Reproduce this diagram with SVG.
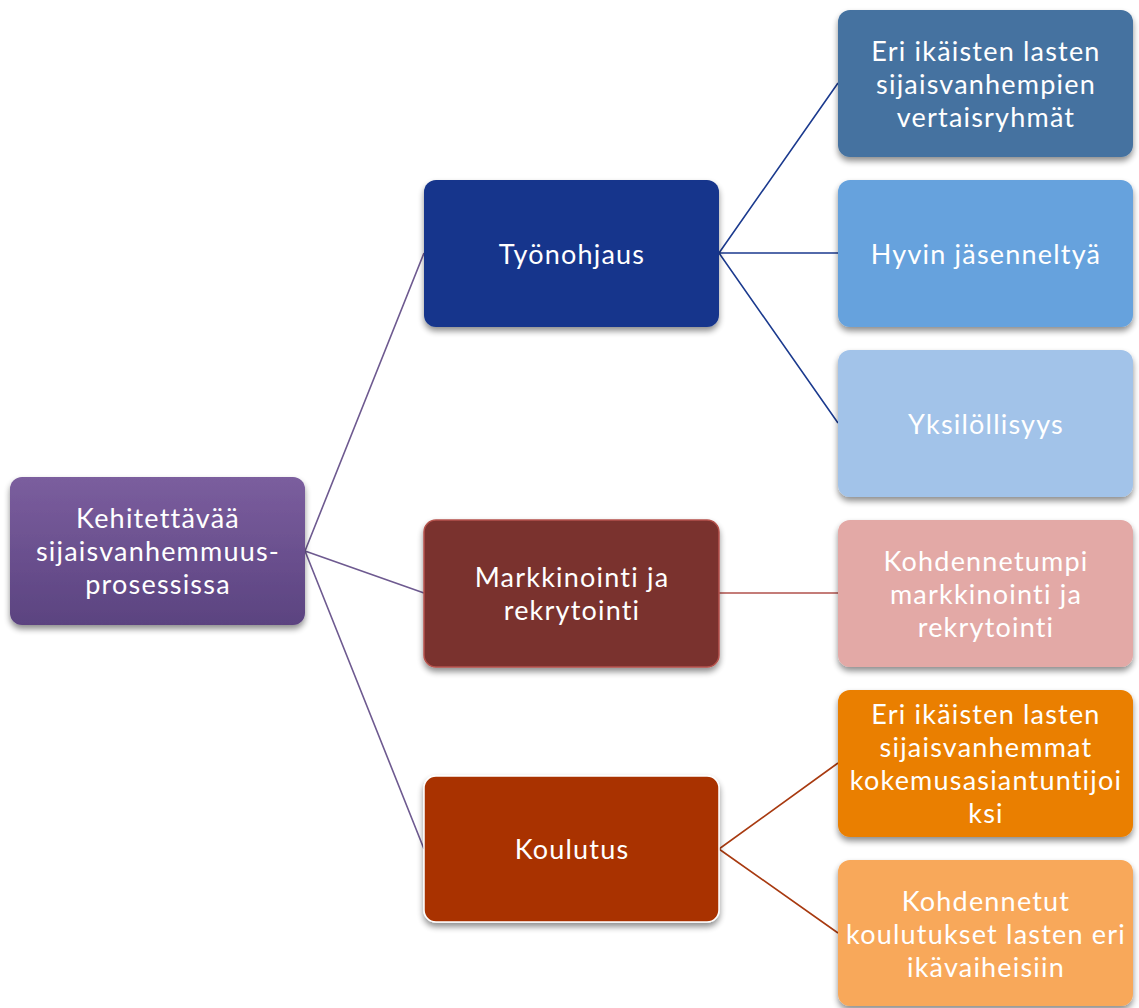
<svg xmlns="http://www.w3.org/2000/svg" width="1139" height="1008" viewBox="0 0 1139 1008">
<style>
text{font-family:Lato,"Open Sans","Liberation Sans",sans-serif;font-size:27px;letter-spacing:1.2px;fill:#ffffff;text-anchor:middle}
.box{filter:url(#sh)}
.c{fill:none;stroke-width:1.6}
</style>
<defs>
<filter id="sh" x="-10%" y="-10%" width="120%" height="130%">
<feGaussianBlur in="SourceAlpha" stdDeviation="3"/>
<feOffset dx="0" dy="4" result="b"/>
<feComponentTransfer><feFuncA type="linear" slope="0.45"/></feComponentTransfer>
<feMerge><feMergeNode/><feMergeNode in="SourceGraphic"/></feMerge>
</filter>
<linearGradient id="gp" x1="0" y1="0" x2="0" y2="1">
<stop offset="0" stop-color="#7b5e9e"/>
<stop offset="1" stop-color="#5b4380"/>
</linearGradient>
</defs>
<rect width="1139" height="1008" fill="#ffffff"/>
<g id="connectors">
<path class="c" stroke="#6e5a90" d="M305,551 L424,253 M305,551 L424,593 M305,551 L424,849"/>
<path class="c" stroke="#1b3a8e" d="M719,253 L838,83 M719,253 L838,253 M719,253 L838,423"/>
<path class="c" stroke="#b0504b" d="M719,593 L838,593"/>
<path class="c" stroke="#a83a10" d="M719,849 L838,763 M719,849 L838,933"/>
</g>
<g id="root">
<rect class="box" x="10" y="477" width="295" height="148" rx="12" fill="url(#gp)"/>
<text x="158" y="528">Kehitettävää</text>
<text x="158" y="561">sijaisvanhemmuus-</text>
<text x="158" y="594">prosessissa</text>
</g>
<g id="tyonohjaus">
<rect class="box" x="424" y="180" width="295" height="147" rx="12" fill="#15368c"/>
<text x="572" y="264">Työnohjaus</text>
</g>
<g id="markkinointi">
<rect class="box" x="424" y="520" width="295" height="147" rx="12" fill="#7a302e" stroke="#b5524c" stroke-width="1.5"/>
<text x="572" y="587">Markkinointi ja</text>
<text x="572" y="620">rekrytointi</text>
</g>
<g id="koulutus">
<rect class="box" x="424" y="776" width="295" height="146" rx="12" fill="#a93300" stroke="#ffffff" stroke-width="1.5"/>
<text x="572" y="859">Koulutus</text>
</g>
<g id="vertaisryhmat">
<rect class="box" x="838" y="10" width="295" height="147" rx="12" fill="#4472a0"/>
<text x="986" y="61">Eri ikäisten lasten</text>
<text x="986" y="94">sijaisvanhempien</text>
<text x="986" y="127">vertaisryhmät</text>
</g>
<g id="jasenneltya">
<rect class="box" x="838" y="180" width="295" height="147" rx="12" fill="#66a2dd"/>
<text x="986" y="264">Hyvin jäsenneltyä</text>
</g>
<g id="yksilollisyys">
<rect class="box" x="838" y="350" width="295" height="147" rx="12" fill="#a2c3e9"/>
<text x="986" y="434">Yksilöllisyys</text>
</g>
<g id="kohdennetumpi">
<rect class="box" x="838" y="520" width="295" height="147" rx="12" fill="#e3a9a6"/>
<text x="986" y="571">Kohdennetumpi</text>
<text x="986" y="604">markkinointi ja</text>
<text x="986" y="637">rekrytointi</text>
</g>
<g id="kokemusasiantuntijoiksi">
<rect class="box" x="838" y="690" width="295" height="147" rx="12" fill="#ea7f06"/>
<text x="986" y="724">Eri ikäisten lasten</text>
<text x="986" y="757">sijaisvanhemmat</text>
<text x="986" y="790">kokemusasiantuntijoi</text>
<text x="986" y="823">ksi</text>
</g>
<g id="kohdennetut">
<rect class="box" x="838" y="860" width="295" height="146" rx="12" fill="#f8a85a"/>
<text x="986" y="911">Kohdennetut</text>
<text x="986" y="944">koulutukset lasten eri</text>
<text x="986" y="977">ikävaiheisiin</text>
</g>
</svg>
